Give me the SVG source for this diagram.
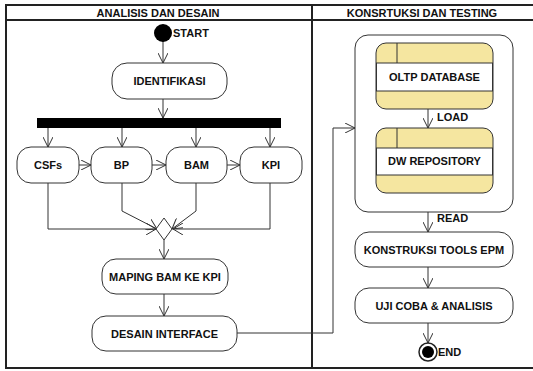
<svg xmlns="http://www.w3.org/2000/svg" width="533" height="371" viewBox="0 0 533 371">
<defs>
<marker id="ah" viewBox="0 0 10 10" refX="10" refY="5" markerWidth="10" markerHeight="10" markerUnits="userSpaceOnUse" orient="auto">
<path d="M0,0 L10,5 L0,10" fill="none" stroke="#333" stroke-width="1"/>
</marker>
<marker id="ahb" viewBox="0 0 10 12" refX="10" refY="6" markerWidth="10" markerHeight="12" markerUnits="userSpaceOnUse" orient="auto">
<path d="M0,0 L10,6 L0,12" fill="none" stroke="#333" stroke-width="1"/>
</marker>
</defs>
<style>
text{font-family:"Liberation Sans",Arial,sans-serif;font-weight:bold;font-size:11px;fill:#111}
.c{text-anchor:middle}
.act{fill:#fff;stroke:#333;stroke-width:1}
.frame{stroke:#222;stroke-width:2;fill:none}
.ln{fill:none;stroke:#333;stroke-width:1}
.arr{fill:none;stroke:#333;stroke-width:1;marker-end:url(#ah)}
.db{fill:#f5e6a0;stroke:#333;stroke-width:1}
</style>
<rect width="533" height="371" fill="#fff"/>
<g id="frame">
<line class="frame" x1="5" y1="5" x2="533" y2="5"/>
<line class="frame" x1="5" y1="20" x2="533" y2="20"/>
<line class="frame" x1="5" y1="368" x2="533" y2="368"/>
<line class="frame" x1="6" y1="5" x2="6" y2="368"/>
<line class="frame" x1="312" y1="5" x2="312" y2="368"/>
<text class="c" x="158" y="17">ANALISIS DAN DESAIN</text>
<text class="c" x="422" y="17">KONSRTUKSI DAN TESTING</text>
</g>
<g id="container">
<rect class="act" x="355" y="35" width="158" height="177" rx="13"/>
</g>
<g id="connectors">
<line class="arr" x1="163" y1="41" x2="163" y2="63"/>
<line class="arr" x1="163" y1="99" x2="163" y2="118"/>
<line class="arr" x1="48" y1="128" x2="48" y2="147"/>
<line class="arr" x1="122" y1="128" x2="122" y2="147"/>
<line class="arr" x1="196" y1="128" x2="196" y2="147"/>
<line class="arr" x1="270" y1="128" x2="270" y2="147"/>
<line class="arr" x1="79" y1="165" x2="91" y2="165"/>
<line class="arr" x1="152" y1="165" x2="166" y2="165"/>
<line class="arr" x1="227" y1="165" x2="240" y2="165"/>
<path class="ln" d="M48,183 V229 H156" marker-end="url(#ahb)"/>
<path class="ln" d="M122,183 V211 L157,229" marker-end="url(#ahb)"/>
<path class="ln" d="M196,183 V211 L172,229" marker-end="url(#ahb)"/>
<path class="ln" d="M270,183 V229 H173" marker-end="url(#ahb)"/>
<line class="arr" x1="164" y1="240" x2="164" y2="259"/>
<line class="arr" x1="164" y1="294" x2="164" y2="316"/>
<path class="arr" d="M237,333 H333 V128 H355"/>
<line class="arr" x1="428" y1="109" x2="428" y2="128"/>
<text x="437" y="121">LOAD</text>
<line class="arr" x1="428" y1="212" x2="428" y2="232"/>
<text x="437" y="222">READ</text>
<line class="arr" x1="428" y1="267" x2="428" y2="288"/>
<line class="arr" x1="428" y1="323" x2="428" y2="343"/>
</g>
<g id="start">
<circle cx="163" cy="33" r="9" fill="#000"/>
<text x="173" y="37">START</text>
</g>
<g id="identifikasi">
<rect class="act" x="112" y="63" width="115" height="36" rx="15"/>
<text class="c" x="169.5" y="85">IDENTIFIKASI</text>
</g>
<g id="fork">
<rect x="37" y="118" width="244" height="10" fill="#000"/>
</g>
<g id="csfs">
<rect class="act" x="17" y="147" width="62" height="36" rx="14"/>
<text class="c" x="48" y="169">CSFs</text>
</g>
<g id="bp">
<rect class="act" x="91" y="147" width="61" height="36" rx="14"/>
<text class="c" x="121.5" y="169">BP</text>
</g>
<g id="bam">
<rect class="act" x="166" y="147" width="61" height="36" rx="14"/>
<text class="c" x="196.5" y="169">BAM</text>
</g>
<g id="kpi">
<rect class="act" x="240" y="147" width="62" height="36" rx="14"/>
<text class="c" x="271" y="169">KPI</text>
</g>
<g id="merge">
<polygon points="164,218 172,229 164,240 156,229" fill="#fff" stroke="#333" stroke-width="1"/>
</g>
<g id="maping">
<rect class="act" x="102" y="259" width="126" height="35" rx="14"/>
<text class="c" x="165" y="281">MAPING BAM KE KPI</text>
</g>
<g id="desain">
<rect class="act" x="92" y="316" width="145" height="35" rx="14"/>
<text class="c" x="164.5" y="338">DESAIN INTERFACE</text>
</g>
<g id="oltp">
<rect class="db" x="376" y="43" width="117" height="66" rx="10"/>
<rect x="376.5" y="63" width="116" height="28" fill="#fff" stroke="#333" stroke-width="1"/>
<line class="ln" x1="397" y1="43" x2="397" y2="63"/>
<text class="c" x="434.5" y="81">OLTP DATABASE</text>
</g>
<g id="dw">
<rect class="db" x="376" y="128" width="117" height="65" rx="10"/>
<rect x="376.5" y="148" width="116" height="27" fill="#fff" stroke="#333" stroke-width="1"/>
<line class="ln" x1="397" y1="128" x2="397" y2="148"/>
<text class="c" x="434.5" y="165">DW REPOSITORY</text>
</g>
<g id="konstruksi">
<rect class="act" x="355" y="232" width="158" height="35" rx="14"/>
<text class="c" x="434" y="254">KONSTRUKSI TOOLS EPM</text>
</g>
<g id="uji">
<rect class="act" x="355" y="288" width="158" height="35" rx="14"/>
<text class="c" x="434" y="310">UJI COBA &amp; ANALISIS</text>
</g>
<g id="end">
<circle cx="428" cy="352" r="9" fill="#fff" stroke="#222" stroke-width="1.5"/>
<circle cx="428" cy="352" r="6" fill="#000"/>
<text x="438" y="356">END</text>
</g>
</svg>
